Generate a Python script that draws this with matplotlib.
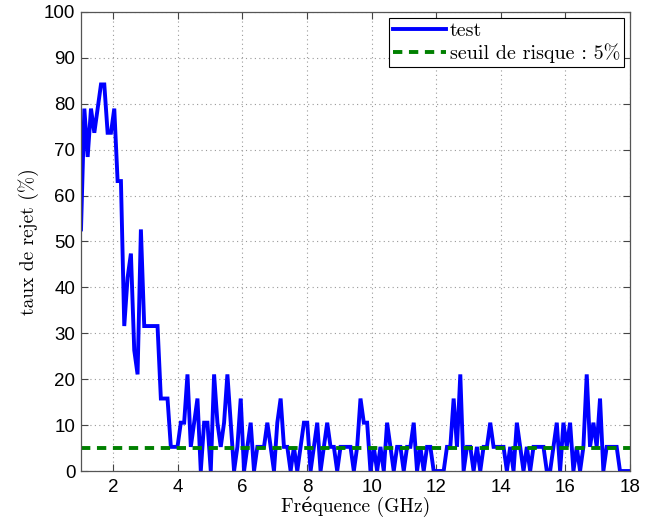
import numpy as np
import matplotlib
matplotlib.use("Agg")
import matplotlib.pyplot as plt

# frequency grid (GHz)
f_start = 1.0
f_stop = 18.0
n_points = 166

# taux de rejet (%) per frequency point
taux_rejet = [
    52.63, 78.95, 68.42, 78.95, 73.68, 78.95, 84.21, 84.21, 73.68, 73.68,
    78.95, 63.16, 63.16, 31.58, 42.11, 47.37, 26.32, 21.05, 52.63, 31.58,
    31.58, 31.58, 31.58, 31.58, 15.79, 15.79, 15.79, 5.26, 5.26, 5.26,
    10.53, 10.53, 21.05, 5.26, 10.53, 15.79, 0, 10.53, 10.53, 0,
    21.05, 10.53, 5.26, 10.53, 21.05, 10.53, 0, 5.26, 15.79, 0,
    5.26, 10.53, 0, 5.26, 5.26, 5.26, 10.53, 5.26, 0, 10.53,
    15.79, 5.26, 5.26, 0, 5.26, 0, 5.26, 10.53, 10.53, 0,
    5.26, 10.53, 0, 5.26, 10.53, 5.26, 5.26, 0, 5.26, 5.26,
    5.26, 5.26, 0, 5.26, 15.79, 10.53, 10.53, 0, 5.26, 0,
    5.26, 0, 10.53, 5.26, 0, 5.26, 5.26, 0, 5.26, 5.26,
    10.53, 0, 5.26, 0, 5.26, 5.26, 0, 0, 0, 0,
    5.26, 5.26, 15.79, 5.26, 21.05, 0, 5.26, 5.26, 0, 5.26,
    0, 5.26, 5.26, 10.53, 5.26, 5.26, 5.26, 5.26, 0, 5.26,
    0, 10.53, 5.26, 0, 5.26, 0, 5.26, 5.26, 5.26, 5.26,
    0, 0, 5.26, 10.53, 0, 10.53, 5.26, 10.53, 0, 5.26,
    0, 5.26, 21.05, 5.26, 10.53, 5.26, 15.79, 0, 5.26, 5.26,
    5.26, 5.26, 0, 0, 0, 0,
]
seuil = 5

x_ticks = [2, 4, 6, 8, 10, 12, 14, 16, 18]
y_ticks = [0, 10, 20, 30, 40, 50, 60, 70, 80, 90, 100]

serif = ['cmr10', 'DejaVu Serif']
plt.rcParams['font.family'] = ['Liberation Sans', 'DejaVu Sans']

freq = np.linspace(f_start, f_stop, n_points)

fig = plt.figure(figsize=(6.46, 5.2), dpi=100)
ax = fig.add_axes([0.1254, 0.0942, 0.8498, 0.8828])

ax.plot(freq, taux_rejet, color=(0, 0, 1), lw=2.8, label='test',
        solid_joinstyle='miter')
ax.plot([f_start, f_stop], [seuil, seuil], color=(0, 0.5, 0), lw=2.8,
        ls=(0, (2.4, 1.7)), label='seuil de risque : 5%')

ax.set_xlim(f_start, f_stop)
ax.set_ylim(0, 100)
ax.set_xticks(x_ticks)
ax.set_yticks(y_ticks)
ax.tick_params(direction='in', top=True, right=True, labelsize=13.5,
               length=5, color='#444444')
ax.tick_params(axis='x', pad=6)
ax.tick_params(axis='y', pad=4)
for s in ax.spines.values():
    s.set_color('#555555')
    s.set_linewidth(0.9)

ax.grid(True, ls=(0, (1, 3)), color='#999999', lw=0.8)

ax.set_xlabel('Fréquence (GHz)', family=serif, fontsize=14, labelpad=0)
ax.set_ylabel('taux de rejet (%)', family=serif, fontsize=14, labelpad=4)

leg = ax.legend(loc='upper right', prop={'family': serif, 'size': 14.5},
                fancybox=False, framealpha=1, edgecolor='black',
                handlelength=2.6, handletextpad=0.2, borderpad=0.2,
                labelspacing=0.15, borderaxespad=0.3)
leg.get_frame().set_linewidth(0.8)

fig.savefig('out.png', dpi=100)
